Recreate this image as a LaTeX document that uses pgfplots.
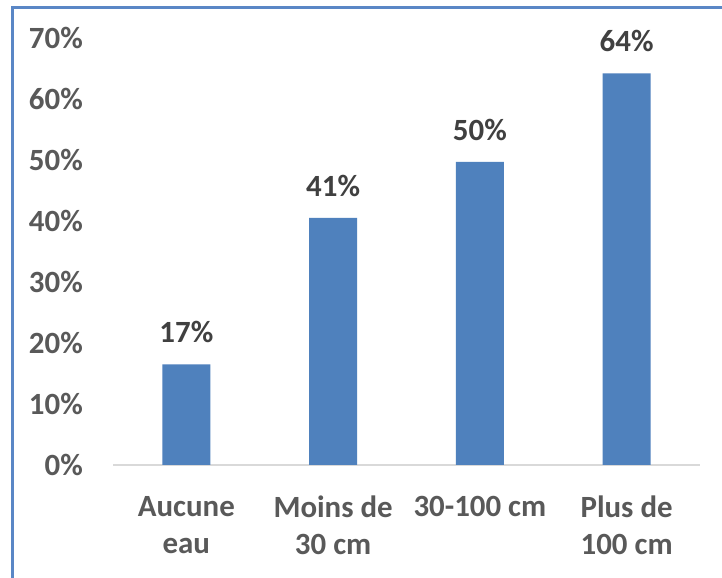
\documentclass[border=0pt]{standalone}
\usepackage{pgfplots}
\pgfplotsset{compat=1.18}
\usepackage{fontspec}
\setmainfont{Carlito}
\definecolor{barblue}{HTML}{4F81BD}
\definecolor{framblue}{HTML}{5A87C6}
\definecolor{ticktext}{HTML}{595959}
\definecolor{labtext}{HTML}{404040}
\definecolor{axgray}{HTML}{D9D9D9}
\begin{document}
\begin{tikzpicture}[x=1bp,y=1bp]
\path[use as bounding box] (0,0) rectangle (722,578);
\fill[white] (0,0) rectangle (722,578);
\draw[framblue, line width=3bp] (12,0) -- (12,570) -- (722,570);
\begin{axis}[
  at={(113bp,113bp)}, anchor=south west,
  scale only axis, width=587bp, height=427bp,
  xmin=-0.5, xmax=3.5, ymin=0, ymax=70,
  axis x line*=bottom, axis y line*=left,
  x axis line style={axgray, line width=2bp, -},
  y axis line style={draw=none},
  /pgf/number format/assume math mode=true,
  ytick={0,10,...,70},
  yticklabel={\pgfmathprintnumber{\tick}\%},
  xtick={0,1,2,3},
  xticklabels={{Aucune\\eau},{Moins de\\30 cm},{30-100 cm},{Plus de\\100 cm}},
  major tick length=0pt,
  ybar, bar width=48bp,
  y tick label style={font=\fontsize{31}{35}\selectfont\bfseries, text=ticktext, anchor=east, inner sep=0pt, xshift=-30bp},
  x tick label style={font=\fontsize{31}{37}\selectfont\bfseries, text=ticktext, align=center, anchor=north, inner sep=0pt, yshift=-31bp},
  nodes near coords={\pgfmathprintnumber{\pgfplotspointmeta}\%},
  point meta=explicit,
  nodes near coords style={font=\fontsize{31}{35}\selectfont\bfseries, text=labtext, anchor=south, inner sep=0pt, yshift=21bp},
  clip=false,
]
\addplot[fill=barblue, draw=none] coordinates {(0,16.5) [17] (1,40.5) [41] (2,49.7) [50] (3,64.2) [64]};
\end{axis}
\end{tikzpicture}
\end{document}
